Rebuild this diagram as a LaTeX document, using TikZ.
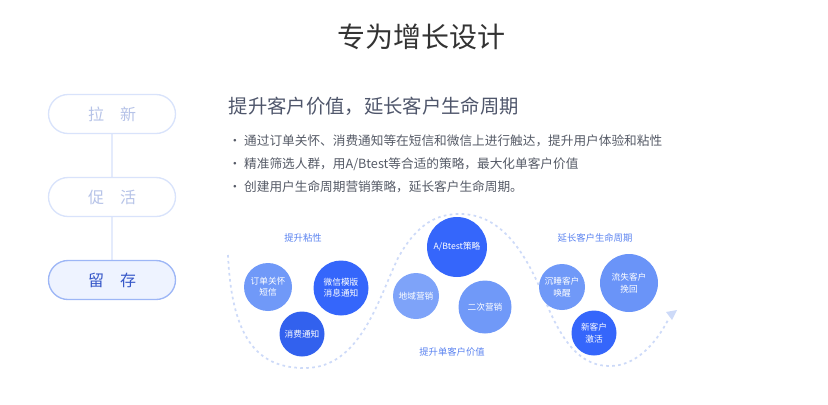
\documentclass[tikz,border=0pt]{standalone}
\usepackage{fontspec}
\setmainfont{Noto Sans CJK SC}
\usetikzlibrary{positioning, arrows.meta}
\definecolor{titlegray}{HTML}{333333}
\definecolor{headgray}{HTML}{4F566B}
\definecolor{textgray}{HTML}{555A66}
\definecolor{pilledge}{HTML}{D9E3FB}
\definecolor{pilltext}{HTML}{B6C3E8}
\definecolor{activeedge}{HTML}{9DB6F6}
\definecolor{activefill}{HTML}{EEF3FF}
\definecolor{activetext}{HTML}{3657C8}
\definecolor{lightball}{HTML}{7099F8}
\definecolor{darkball}{HTML}{3566FB}
\definecolor{labelblue}{HTML}{5B83F0}
\definecolor{wave}{HTML}{CDDAF8}
\tikzset{pill/.style={
    rectangle,
    rounded corners=19.5*0.75pt,
    draw=pilledge,
    line width=1pt,
    minimum width=127*0.75pt,
    minimum height=39*0.75pt,
    text=pilltext,
    font=\fontsize{12}{14}\selectfont
}}
\tikzset{ball/.style={
    circle,
    inner sep=0pt,
    text=white,
    align=center,
    font=\fontsize{6.5}{8.5}\selectfont
}}
\tikzset{phase/.style={
    text=labelblue,
    font=\fontsize{7}{8}\selectfont
}}
\tikzset{bullet/.style={
    anchor=west,
    text=textgray,
    font=\fontsize{9.5}{11}\selectfont
}}
\begin{document}
\begin{tikzpicture}[x=0.75pt, y=-0.75pt]
    \useasboundingbox (0,0) rectangle (828,404);
    % Title
    \node (title) [text=titlegray, font=\fontsize{21}{24}\selectfont] at (421,37) {专为增长设计};
    % Left steps
    \draw [pilledge!70, line width=0.8pt] (112,133) -- (112,261);
    \node (new)    [pill, fill=white] at (112,114) {拉\hspace{1em}新};
    \node (active) [pill, fill=white] at (112,197) {促\hspace{1em}活};
    \node (keep)   [pill, draw=activeedge, fill=activefill, text=activetext] at (112,280) {留\hspace{1em}存};
    % Heading and bullets
    \node (head) [anchor=west, text=headgray, font=\fontsize{14.5}{17}\selectfont] at (224,106) {提升客户价值，延长客户生命周期};
    \node (b1) [bullet] at (224,141) {• 通过订单关怀、消费通知等在短信和微信上进行触达，提升用户体验和粘性};
    \node (b2) [bullet] at (224,164) {• 精准筛选人群，用A/Btest等合适的策略，最大化单客户价值};
    \node (b3) [bullet] at (224,187) {• 创建用户生命周期营销策略，延长客户生命周期。};
    % Wave
    \draw [wave, line width=1.3pt, dash pattern=on 2pt off 2.5pt]
        (228,255) .. controls (232,345) and (262,368) .. (305,368)
        .. controls (360,368) and (378,300) .. (398,258)
        .. controls (418,222) and (438,214) .. (460,214)
        .. controls (500,214) and (525,250) .. (545,300)
        .. controls (565,350) and (585,366) .. (610,366)
        .. controls (635,366) and (655,345) .. (668,320);
    \fill [wave] (666,312) -- (677,310) -- (672,320) -- cycle;
    % Circles
    \node (order)   [ball, fill=lightball, minimum size=48*0.75pt] at (268,287) {订单关怀\\短信};
    \node (wechat)  [ball, fill=darkball, minimum size=55*0.75pt] at (341,288) {微信模版\\消息通知};
    \node (pay)     [ball, fill=darkball!95!black, minimum size=45*0.75pt] at (302,334) {消费通知};
    \node (ab)      [ball, fill=darkball, minimum size=60*0.75pt] at (457,247) {A/Btest策略};
    \node (region)  [ball, fill=lightball!90!white, minimum size=46*0.75pt] at (416,296) {地域营销};
    \node (second)  [ball, fill=lightball, minimum size=53*0.75pt] at (485,307) {二次营销};
    \node (sleep)   [ball, fill=lightball, minimum size=46*0.75pt] at (562,287) {沉睡客户\\唤醒};
    \node (lost)    [ball, fill=lightball!90!darkball, minimum size=58*0.75pt] at (629,283) {流失客户\\挽回};
    \node (fresh)   [ball, fill=darkball, minimum size=45*0.75pt] at (594,333) {新客户\\激活};
    % Phase labels
    \node (sticky) [phase] at (303,238) {提升粘性};
    \node (value)  [phase] at (452,352) {提升单客户价值};
    \node (life)   [phase] at (595,238) {延长客户生命周期};
\end{tikzpicture}
\end{document}
